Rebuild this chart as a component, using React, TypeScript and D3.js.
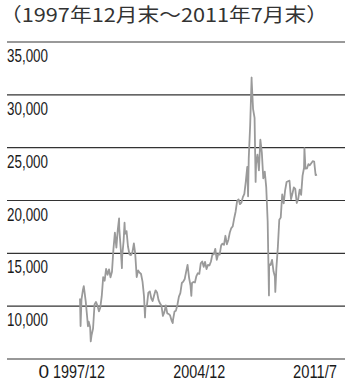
import React from "react";
import * as d3 from "d3";

const title = "（1997年12月末～2011年7月末）";

const yTicks = [10000, 15000, 20000, 25000, 30000, 35000];
const yBaseValue = 5000; // position of the axis break, labelled "0"
const yBaseLabel = "0";

const xLabels = ["1997/12", "2004/12", "2011/7"];
const xLabelDates = ["1997-12-31", "2004-12-31", "2011-07-29"];

const dates = [
  "1997-12-31","1998-01-12","1998-01-31","1998-02-28","1998-03-20","1998-03-31","1998-04-30","1998-05-31","1998-06-15","1998-06-30",
  "1998-07-31","1998-08-13","1998-08-31","1998-09-30","1998-10-31","1998-11-30","1998-12-31",
  "1999-01-31","1999-02-28","1999-03-31","1999-04-30","1999-05-31","1999-06-30","1999-07-31","1999-08-31","1999-09-30","1999-10-31","1999-11-30","1999-12-31",
  "2000-01-31","2000-02-28","2000-03-28","2000-03-31","2000-04-30","2000-05-26","2000-05-31","2000-06-30","2000-07-20","2000-07-31","2000-08-31","2000-09-30","2000-10-31","2000-11-30","2000-12-31",
  "2001-01-31","2001-02-28","2001-03-31","2001-04-30","2001-05-31","2001-06-30","2001-07-31","2001-08-31","2001-09-21","2001-09-30","2001-10-31","2001-11-30","2001-12-31",
  "2002-01-31","2002-02-28","2002-03-31","2002-04-30","2002-05-31","2002-06-30","2002-07-31","2002-08-31","2002-09-30","2002-10-31","2002-11-30","2002-12-31",
  "2003-01-31","2003-02-28","2003-03-31","2003-04-25","2003-04-30","2003-05-31","2003-06-30","2003-07-31","2003-08-31","2003-09-30","2003-10-31","2003-11-30","2003-12-31",
  "2004-01-31","2004-02-28","2004-03-31","2004-04-30","2004-05-17","2004-05-31","2004-06-30","2004-07-31","2004-08-31","2004-09-30","2004-10-31","2004-11-30","2004-12-31",
  "2005-01-31","2005-02-28","2005-03-31","2005-04-30","2005-05-31","2005-06-30","2005-07-31","2005-08-31","2005-09-30","2005-10-31","2005-11-30","2005-12-31",
  "2006-01-31","2006-02-28","2006-03-31","2006-04-30","2006-05-31","2006-06-30","2006-07-31","2006-08-31","2006-09-30","2006-10-31","2006-11-30","2006-12-31",
  "2007-01-31","2007-02-28","2007-03-31","2007-04-30","2007-05-31","2007-06-30","2007-07-31","2007-08-17","2007-08-31","2007-09-30","2007-10-30","2007-10-31","2007-11-30","2007-12-31",
  "2008-01-22","2008-01-31","2008-02-29","2008-03-31","2008-04-30","2008-05-31","2008-06-30","2008-07-31","2008-08-31","2008-09-30","2008-10-27","2008-10-31","2008-11-30","2008-12-31",
  "2009-01-31","2009-02-28","2009-03-09","2009-03-31","2009-04-30","2009-05-31","2009-06-30","2009-07-31","2009-08-31","2009-09-30","2009-10-31","2009-11-30","2009-12-31",
  "2010-01-31","2010-02-28","2010-03-31","2010-04-30","2010-05-31","2010-06-30","2010-07-31","2010-08-31","2010-09-30","2010-10-31","2010-11-08","2010-11-30","2010-12-31",
  "2011-01-31","2011-02-28","2011-03-31","2011-04-30","2011-05-31","2011-06-30","2011-07-29"
];

const values = [
  10723,8121,10624,11480,11900,11519,10452,8900,8100,8543,
  8000,6660,7275,7883,10154,10402,10049,
  9507,9863,10942,12752,12409,13532,12974,13483,12734,13256,15377,16962,
  15532,17169,18302,17407,15519,13600,14713,16155,17900,16841,17098,15648,14895,14836,15096,
  15940,14977,12761,13386,13174,13043,12317,10950,8934,9951,10073,11279,11397,
  10725,10482,11033,11497,11301,10598,10267,10043,9072,9441,10069,9321,
  9258,9122,8634,8409,8717,9487,9577,10134,10908,11230,12190,12317,12576,
  13289,13908,12682,11942,10968,12198,12286,12238,12851,13120,13055,14060,14230,
  13721,14196,13516,13908,13868,14201,14880,14903,15429,14386,14937,14876,
  15753,15918,15805,16661,15857,16267,16971,17392,17543,18324,18960,19965,
  20107,19651,19801,20319,20635,21773,23185,20400,23984,27143,31638,31352,28643,27813,
  21757,23456,24332,22849,25755,24533,22102,22731,21261,18016,11015,13969,13888,14387,
  13278,12812,11344,13576,15521,18171,18379,20573,19724,20955,21752,21821,21873,
  20122,20608,21239,21108,19765,20129,21030,20536,22358,23096,24964,23008,23035,
  23447,23338,23528,23720,23684,22398,22440
];

export default function App() {
  const W = 346, H = 383;
  const parse = d3.timeParse("%Y-%m-%d");
  const data = dates.map((d, i) => ({ date: parse(d) as Date, value: values[i] }));

  const x = d3.scaleTime()
    .domain([parse("1997-12-31") as Date, parse("2011-07-29") as Date])
    .range([80, 317]);
  const y = d3.scaleLinear().domain([yBaseValue, 35000]).range([359, 42]);

  const line = d3.line<{ date: Date; value: number }>()
    .x(d => x(d.date))
    .y(d => y(d.value));

  const fmt = d3.format(",");
  const labelFont = "'Liberation Sans Narrow', 'Liberation Sans', Arial, sans-serif";

  return (
    <svg width={W} height={H} style={{ position: "absolute", left: 0, top: 0 }}>
      <rect width={W} height={H} fill="#fff" />
      <text x={0} y={22} fontFamily="'Noto Sans CJK JP', sans-serif" fontSize={19}
        fill="#333" textLength={328} lengthAdjust="spacingAndGlyphs">{title}</text>

      {yTicks.map(t => (
        <line key={t} x1={7} x2={345} y1={y(t)} y2={y(t)}
          stroke={t === 35000 ? "#999" : "#333"} strokeWidth={t === 35000 ? 2 : 1.2} />
      ))}
      <line x1={7} x2={345} y1={y(yBaseValue)} y2={y(yBaseValue)} stroke="#333" strokeWidth={1.2} />

      {yTicks.map(t => (
        <text key={"l" + t} x={7} y={y(t) + 20} fontFamily={labelFont} fontSize={19}
          fill="#1a1a1a" textLength={41} lengthAdjust="spacingAndGlyphs">{fmt(t)}</text>
      ))}
      <text x={49} y={378} textAnchor="end" fontFamily={labelFont} fontSize={19} fill="#1a1a1a">{yBaseLabel}</text>

      {xLabels.map((l, i) => (
        <text key={l} x={x(parse(xLabelDates[i]) as Date) + (i === 0 ? -1 : i === 1 ? -3 : 20)} y={378}
          textAnchor={i === 2 ? "end" : "middle"} fontFamily={labelFont} fontSize={18.5} fill="#1a1a1a"
          textLength={l.length === 7 ? 52 : 44} lengthAdjust="spacingAndGlyphs">{l}</text>
      ))}

      <path d={line(data) || ""} fill="none" stroke="#9a9a9a" strokeWidth={1.8} strokeLinejoin="round" />
    </svg>
  );
}
